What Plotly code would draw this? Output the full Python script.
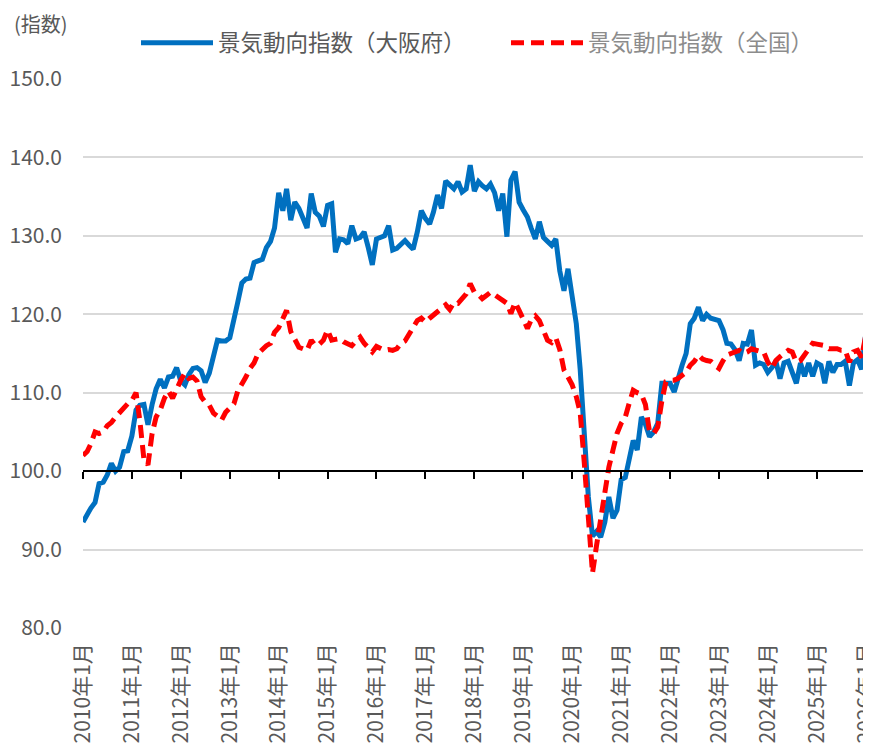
import pandas as pd
import plotly.graph_objects as go

months = pd.date_range("2010-01-01", periods=193, freq="MS")

osaka = [
    93.5, 94.5, 95.3, 96.0, 98.4, 98.6, 99.5, 101.0, 100.0, 100.5, 102.5, 102.6,
    104.5, 107.8, 108.4, 108.5, 105.9, 108.5, 110.5, 111.7, 110.6, 112.0, 112.1, 113.2,
    111.5, 111.0, 112.3, 113.1, 113.2, 112.8, 111.3, 112.5, 114.5, 116.7, 116.6, 116.6,
    117.0, 119.8, 121.5, 124.0, 124.5, 124.6, 126.6, 126.8, 127.0, 128.5, 129.3, 131.0,
    135.5, 133.2, 136.0, 132.0, 134.3, 133.5, 132.2, 131.0, 135.4, 133.0, 132.5, 131.2,
    133.9, 134.1, 127.9, 129.6, 129.5, 129.0, 131.3, 129.6, 129.8, 130.5, 128.5, 126.3,
    129.6, 129.8, 130.0, 131.3, 128.2, 128.4, 128.8, 129.4, 128.8, 128.3, 130.5, 133.2,
    132.2, 131.5, 133.0, 135.2, 133.5, 137.0, 136.5, 136.0, 136.9, 135.6, 136.0, 139.0,
    135.7, 136.9, 136.4, 136.0, 136.6, 135.5, 133.2, 135.4, 129.9, 137.1, 138.2, 134.3,
    133.3, 132.4, 131.0, 129.6, 131.8, 129.8, 129.3, 128.8, 129.6, 125.5, 123.0, 125.8,
    122.3, 118.8, 113.0, 105.0, 96.7, 91.7, 92.3, 91.6, 93.5, 96.7, 94.0, 95.0,
    98.9, 99.2, 101.5, 103.9, 102.7, 106.9, 106.0, 104.4, 105.0, 106.1, 111.2, 111.2,
    111.2, 110.1, 112.0, 113.5, 115.0, 118.8, 119.5, 120.9, 119.2, 120.0, 119.5, 119.3,
    119.2, 118.0, 116.3, 116.2, 115.5, 114.1, 116.3, 116.2, 118.0, 113.5, 113.8, 113.6,
    112.6, 113.2, 114.0, 111.8, 113.8, 114.0, 112.8, 111.2, 113.8, 112.1, 113.8, 112.1,
    113.8, 113.5, 111.2, 114.0, 112.6, 113.6, 113.6, 114.0, 110.9, 113.8, 114.2, 113.0,
    117.5,
]

national = [
    102.0, 102.5, 103.5, 105.0, 104.8, 105.0, 105.8, 106.2, 106.9, 107.5, 108.2, 108.6,
    109.0, 110.0, 106.5, 101.5, 100.8, 104.8, 106.9, 107.8, 109.3, 110.2, 109.3, 110.5,
    111.6, 112.5, 111.8, 112.0, 111.5, 109.5, 108.8, 108.4, 107.4, 107.0, 106.5, 107.5,
    108.0, 108.6, 110.2, 111.0, 112.0, 113.1, 113.8, 115.0, 115.6, 116.0, 116.3, 117.7,
    118.3, 119.3, 120.5, 117.8, 116.9, 115.8, 115.6, 115.4, 116.7, 116.0, 116.2, 116.7,
    118.0, 116.7, 116.8, 116.9, 116.5, 116.2, 116.0, 116.6, 117.1, 116.3, 115.8, 115.2,
    115.9, 115.6, 115.4, 115.5, 115.4, 115.6, 116.3, 116.6, 117.5, 118.4, 119.2, 119.5,
    119.0, 119.5, 119.9, 120.3, 120.9, 121.2, 120.6, 121.5, 121.4, 122.0, 122.6, 123.9,
    122.8, 122.5, 122.0, 122.4, 122.8, 122.5, 122.2, 121.8, 121.4, 120.1, 121.5, 120.5,
    119.5, 118.2, 119.3, 119.8, 119.2, 117.7, 116.7, 116.4, 117.0, 115.5, 112.9, 112.0,
    111.0, 109.5, 107.5, 101.0, 94.5, 87.0, 90.5, 94.0, 97.0, 100.5, 102.7, 104.8,
    106.1, 106.9, 108.6, 110.3, 110.0, 109.8, 108.5, 105.0, 104.8, 105.6, 109.0, 111.4,
    111.6, 111.6, 111.8, 112.2, 112.6, 113.5, 114.0, 114.8, 114.3, 114.1, 114.0, 113.5,
    113.1, 114.1, 114.8, 115.0, 115.2, 115.4, 115.0, 115.2, 115.6, 115.4, 115.3, 115.2,
    113.9, 113.1, 114.1, 114.6, 115.0, 115.4, 115.2, 113.9, 114.1, 114.8, 115.4, 116.3,
    116.2, 116.1, 116.0, 115.6, 115.6, 115.6, 115.4, 115.4, 113.9, 115.2, 115.4, 114.5,
    117.3,
]

years = list(range(2010, 2027))
tick_dates = [f"{y}-01-01" for y in years]
tick_labels = [f"{y}年1月" for y in years]
y_ticks = [80, 90, 100, 110, 120, 130, 140, 150]

FONT = "Noto Sans CJK JP"
GRAY = "#595959"

fig = go.Figure()
fig.add_trace(go.Scatter(
    x=months, y=osaka, mode="lines", name="景気動向指数（大阪府）",
    line=dict(color="#0070C0", width=5), legend="legend",
))
fig.add_trace(go.Scatter(
    x=months, y=national, mode="lines",
    name="<span style='color:#8c8c8c'>景気動向指数（全国）</span>",
    line=dict(color="#FF0000", width=5, dash="13px,7px"), legend="legend2",
))

# page body has an 8px margin; figure is sized/offset so the plot lands where the reference has it
y_lo, y_hi = 80, 150
x_end = "2026-01-03"
PW, PH = 783, 549
ML = 75
leg_common = dict(orientation="h", xanchor="left", y=1 + (79 - 43) / PH, yanchor="middle",
                  font=dict(size=22.5, color=GRAY, family=FONT), itemwidth=72,
                  bgcolor="rgba(0,0,0,0)")
fig.update_layout(
    width=863, height=747,
    margin=dict(l=ML, r=5, t=71, b=127),
    plot_bgcolor="white", paper_bgcolor="white",
    font=dict(family=FONT, color=GRAY, size=19),
    showlegend=True,
    legend=dict(x=(136 - 83) / PW, **leg_common),
    legend2=dict(x=(506 - 83) / PW, **leg_common),
    xaxis=dict(
        range=["2010-01-01", x_end], tickvals=tick_dates, ticktext=tick_labels,
        tickangle=-90, showgrid=False, showline=False, ticks="", zeroline=False,
        tickfont=dict(size=21, color=GRAY, family=FONT), ticklabelstandoff=10,
        ticklabeloverflow="allow", automargin=False,
    ),
    xaxis2=dict(
        matches="x", overlaying="x", anchor="free",
        position=(100 - y_lo) / (y_hi - y_lo),
        tickvals=tick_dates, showticklabels=False, showgrid=False,
        showline=True, linecolor="black", linewidth=2,
        ticks="outside", ticklen=7, tickwidth=2, tickcolor="black",
        automargin=False,
    ),
    yaxis=dict(
        range=[y_lo, y_hi], tickvals=y_ticks, tickformat=".1f",
        showgrid=True, gridcolor="#d9d9d9", gridwidth=2, zeroline=False,
        showline=False, ticks="", tickfont=dict(size=21, color=GRAY, family=FONT),
        ticklabelstandoff=20, automargin=False,
    ),
    annotations=[dict(
        text="(指数)", xref="paper", yref="paper", x=(4 - ML) / PW, xanchor="left",
        y=1 + (79 - 24) / PH, yanchor="middle", showarrow=False,
        font=dict(size=20, color=GRAY, family=FONT),
    )],
)
fig.add_trace(go.Scatter(x=[months[0]], y=[100], xaxis="x2", mode="markers",
                         marker=dict(opacity=0), showlegend=False, hoverinfo="skip"))

fig.write_html("out.html")
